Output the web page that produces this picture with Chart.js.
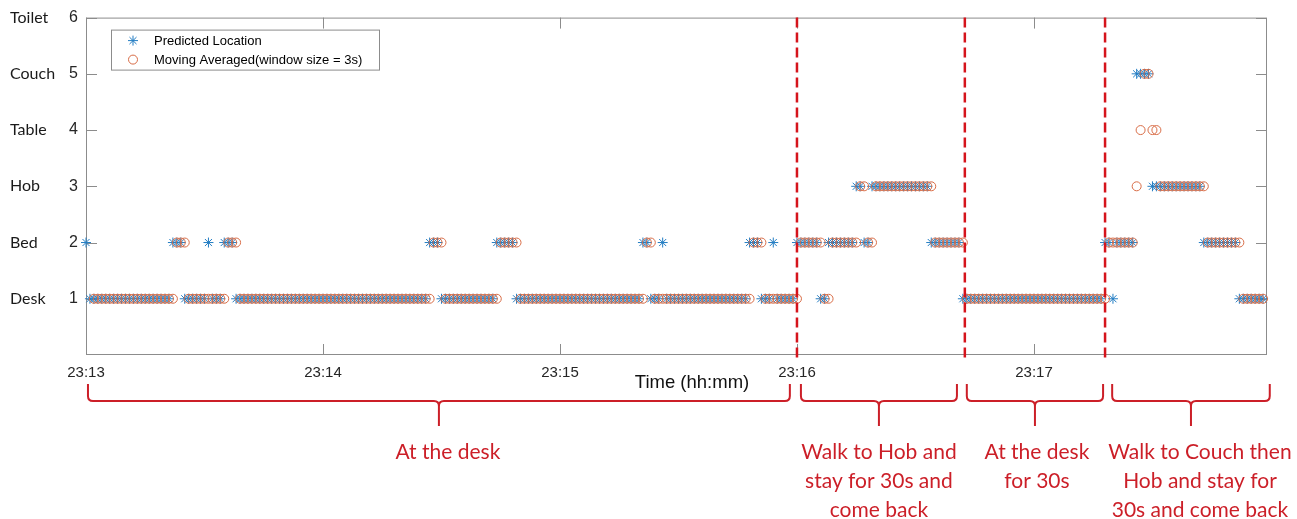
<!DOCTYPE html>
<html>
<head>
<meta charset="utf-8">
<script src="https://cdn.jsdelivr.net/npm/chart.js@4.4.1/dist/chart.umd.min.js"></script>
<style>
  html, body { margin: 0; padding: 0; background: #fff; }
  #wrap { width: 1297px; height: 519px; }
</style>
</head>
<body>
<div id="wrap"><canvas id="chart1"></canvas></div>
<script>
"use strict";
// y value -> location name
const locations = ["Desk", "Bed", "Hob", "Table", "Couch", "Toilet"];
const yTicks = [1, 2, 3, 4, 5, 6];
// seconds after 23:13:00
const xTickSeconds = [0, 60, 120, 180, 240];
const xTickLabels = ["23:13", "23:14", "23:15", "23:16", "23:17"];

// one sample per second, t = 0..298
const predicted = [
    2,1,1,1,1,1,1,1,1,1, 1,1,1,1,1,1,1,1,1,1,
    1,1,2,2,2,1,1,1,1,1, 1,2,1,1,1,2,2,2,1,1,
    1,1,1,1,1,1,1,1,1,1, 1,1,1,1,1,1,1,1,1,1,
    1,1,1,1,1,1,1,1,1,1, 1,1,1,1,1,1,1,1,1,1,
    1,1,1,1,1,1,1,2,2,2, 1,1,1,1,1,1,1,1,1,1,
    1,1,1,1,2,2,2,2,2,1, 1,1,1,1,1,1,1,1,1,1,
    1,1,1,1,1,1,1,1,1,1, 1,1,1,1,1,1,1,1,1,1,
    1,2,2,1,1,1,2,1,1,1, 1,1,1,1,1,1,1,1,1,1,
    1,1,1,1,1,1,1,1,2,2, 2,1,1,1,2,1,1,1,1,1,
    2,2,2,2,2,2,1,1,2,2, 2,2,2,2,2,3,3,2,2,3,
    3,3,3,3,3,3,3,3,3,3, 3,3,3,3,2,2,2,2,2,2,
    2,2,1,1,1,1,1,1,1,1, 1,1,1,1,1,1,1,1,1,1,
    1,1,1,1,1,1,1,1,1,1, 1,1,1,1,1,1,1,1,2,2,
    1,2,2,2,2,2,5,5,5,5, 3,3,3,3,3,3,3,3,3,3,
    3,3,3,2,2,2,2,2,2,2, 2,2,1,1,1,1,1,1,1
];
const movingAvg = [
    null,null,1,1,1,1,1,1,1,1, 1,1,1,1,1,1,1,1,1,1,
    1,1,1,2,2,2,1,1,1,1, 1,1,1,1,1,1,2,2,2,1,
    1,1,1,1,1,1,1,1,1,1, 1,1,1,1,1,1,1,1,1,1,
    1,1,1,1,1,1,1,1,1,1, 1,1,1,1,1,1,1,1,1,1,
    1,1,1,1,1,1,1,1,2,2, 2,1,1,1,1,1,1,1,1,1,
    1,1,1,1,1,2,2,2,2,2, 1,1,1,1,1,1,1,1,1,1,
    1,1,1,1,1,1,1,1,1,1, 1,1,1,1,1,1,1,1,1,1,
    1,1,2,2,1,1,1,1,1,1, 1,1,1,1,1,1,1,1,1,1,
    1,1,1,1,1,1,1,1,1,2, 2,2,1,1,1,1,1,1,1,1,
    1,2,2,2,2,2,2,1,1,2, 2,2,2,2,2,2,3,3,2,2,
    3,3,3,3,3,3,3,3,3,3, 3,3,3,3,3,2,2,2,2,2,
    2,2,2,1,1,1,1,1,1,1, 1,1,1,1,1,1,1,1,1,1,
    1,1,1,1,1,1,1,1,1,1, 1,1,1,1,1,1,1,1,1,2,
    2,2,2,2,2,2,3,4,5,5, 4,4,3,3,3,3,3,3,3,3,
    3,3,3,3,2,2,2,2,2,2, 2,2,2,1,1,1,1,1,1
];

// activity changes (seconds) and the braces under the axis
const boundaries = [180, 222.5, 258];
const phaseStart = [0.5, 181, 223, 259.8];
const phaseEnd = [178.2, 220.5, 257.5, 299.7];
const phaseNotes = [
    ["At the desk"],
    ["Walk to Hob and", "stay for 30s and", "come back"],
    ["At the desk", "for 30s"],
    ["Walk to Couch then", "Hob and stay for", "30s and come back"],
];
const noteShift = [9, 0, 2, 9];

const axisGray = "#8c8c8c";
const noteRed = "#cc1f28";

const extras = {
    id: "extras",
    beforeDatasetsDraw(chart) {
        const { ctx, chartArea: a, scales: { x, y } } = chart;
        ctx.save();
        ctx.strokeStyle = axisGray;
        ctx.lineWidth = 1;
        ctx.strokeRect(a.left + 0.5, a.top + 0.5, a.right - a.left - 1, a.bottom - a.top - 1);
        ctx.beginPath();
        xTickSeconds.forEach((s) => {
            const px = Math.round(x.getPixelForValue(s)) + 0.5;
            ctx.moveTo(px, a.bottom); ctx.lineTo(px, a.bottom - 11);
            ctx.moveTo(px, a.top); ctx.lineTo(px, a.top + 11);
        });
        yTicks.forEach((v) => {
            const py = Math.round(y.getPixelForValue(v)) + 0.5;
            ctx.moveTo(a.left, py); ctx.lineTo(a.left + 11, py);
            ctx.moveTo(a.right, py); ctx.lineTo(a.right - 11, py);
        });
        ctx.stroke();
        ctx.restore();
    },
    afterDatasetsDraw(chart) {
        const { ctx, chartArea: a, scales: { x, y } } = chart;
        ctx.save();

        // dashed red boundaries
        ctx.strokeStyle = "#d5141c";
        ctx.lineWidth = 2.5;
        ctx.setLineDash([10, 5]);
        boundaries.forEach((s) => {
            const px = x.getPixelForValue(s);
            ctx.beginPath();
            ctx.moveTo(px, a.top);
            ctx.lineTo(px, a.bottom + 3);
            ctx.stroke();
        });
        ctx.setLineDash([]);

        // location names left of the y ticks
        ctx.fillStyle = "#1a1a1a";
        ctx.font = "16px Lato";
        ctx.textAlign = "left";
        ctx.textBaseline = "middle";
        yTicks.forEach((v, i) => {
            ctx.fillText(locations[i], 10, y.getPixelForValue(v));
        });

        // x title
        ctx.fillStyle = "#111";
        ctx.font = "18.5px 'Liberation Sans'";
        ctx.textAlign = "center";
        ctx.fillText("Time (hh:mm)", 692, a.bottom + 28);

        // legend
        const lx = a.left + 25, ly = a.top + 12;
        ctx.fillStyle = "#fff";
        ctx.fillRect(lx, ly, 269, 41);
        ctx.strokeStyle = axisGray;
        ctx.lineWidth = 1;
        ctx.strokeRect(lx + 0.5, ly + 0.5, 268, 40);
        chart.data.datasets.slice().reverse().forEach((ds, i) => {
            const cy = ly + 11 + i * 19;
            ctx.strokeStyle = ds.borderColor;
            ctx.fillStyle = "rgba(0,0,0,0)";
            ctx.lineWidth = 1;
            Chart.helpers.drawPoint(ctx, { pointStyle: ds.pointStyle, radius: ds.pointRadius, borderWidth: 1 }, lx + 22, cy);
            ctx.fillStyle = "#000";
            ctx.font = "13px 'Liberation Sans'";
            ctx.textAlign = "left";
            ctx.fillText(ds.label, lx + 43, cy + 1);
        });

        // braces and notes
        ctx.strokeStyle = noteRed;
        ctx.lineWidth = 2;
        ctx.fillStyle = noteRed;
        ctx.font = "21px Lato";
        ctx.textAlign = "center";
        phaseStart.forEach((s, i) => {
            const x0 = x.getPixelForValue(s), x1 = x.getPixelForValue(phaseEnd[i]);
            const tip = (x0 + x1) / 2, top = 384, mid = 401, bot = 426, r = 5;
            ctx.beginPath();
            ctx.moveTo(x0, top);
            ctx.lineTo(x0, mid - r);
            ctx.quadraticCurveTo(x0, mid, x0 + r, mid);
            ctx.lineTo(tip - r, mid);
            ctx.quadraticCurveTo(tip, mid, tip, mid + r);
            ctx.lineTo(tip, bot);
            ctx.moveTo(tip, mid + r);
            ctx.quadraticCurveTo(tip, mid, tip + r, mid);
            ctx.lineTo(x1 - r, mid);
            ctx.quadraticCurveTo(x1, mid, x1, mid - r);
            ctx.lineTo(x1, top);
            ctx.stroke();
            phaseNotes[i].forEach((line, j) => {
                ctx.fillText(line, tip + noteShift[i], 452 + j * 29);
            });
        });
        ctx.restore();
    },
};

const chartData = {
    datasets: [
        {
            label: "Moving Averaged(window size = 3s)",
            data: movingAvg.map((v, i) => ({ x: i, y: v })),
            pointStyle: "circle",
            pointRadius: 4.5,
            borderColor: "rgb(216, 108, 70)",
            backgroundColor: "rgba(0,0,0,0)",
            borderWidth: 1,
            showLine: false,
            clip: false,
        },
        {
            label: "Predicted Location",
            data: predicted.map((v, i) => ({ x: i, y: v })),
            pointStyle: "star",
            pointRadius: 5,
            borderColor: "rgb(35, 125, 195)",
            backgroundColor: "rgba(0,0,0,0)",
            borderWidth: 1,
            showLine: false,
            clip: false,
        },
    ],
};

const chartConfig = {
    type: "scatter",
    data: chartData,
    options: {
        responsive: true,
        maintainAspectRatio: false,
        animation: false,
        layout: { padding: { left: 0, right: 30, top: 17, bottom: 0 } },
        plugins: { legend: { display: false }, tooltip: { enabled: false } },
        scales: {
            x: {
                type: "linear",
                min: 0,
                max: 299,
                grid: { display: false, drawTicks: false },
                border: { display: false },
                afterFit: (s) => { s.height = 164; },
                afterBuildTicks: (s) => { s.ticks = xTickSeconds.map((v) => ({ value: v })); },
                ticks: {
                    autoSkip: false,
                    maxRotation: 0,
                    padding: 9,
                    color: "#262626",
                    font: { family: "'Liberation Sans'", size: 15 },
                    callback: (v, i) => xTickLabels[i],
                },
            },
            y: {
                min: 0,
                max: 6,
                grid: { display: false, drawTicks: false },
                border: { display: false },
                afterFit: (s) => { s.width = 86; },
                afterBuildTicks: (s) => { s.ticks = yTicks.map((v) => ({ value: v })); },
                ticks: {
                    padding: 8,
                    color: "#262626",
                    font: { family: "'Liberation Sans'", size: 16 },
                    callback: (v) => String(v),
                },
            },
        },
    },
    plugins: [extras],
};

new Chart(document.querySelector("#chart1"), chartConfig);
</script>
</body>
</html>
